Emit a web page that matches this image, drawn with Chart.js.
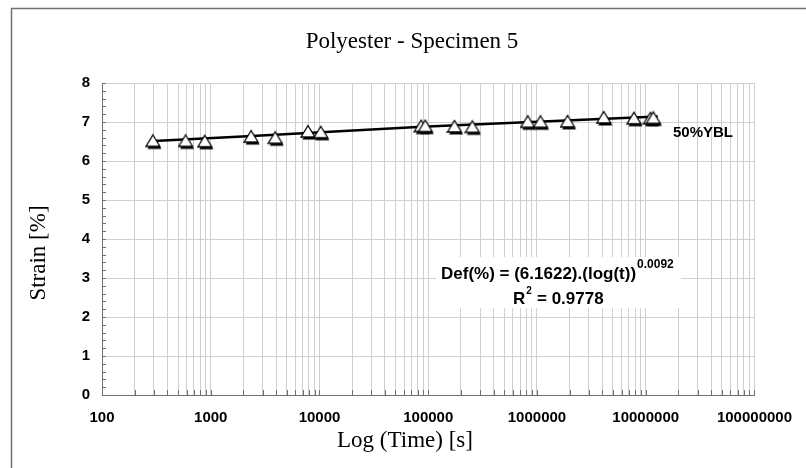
<!DOCTYPE html>
<html>
<head>
<meta charset="utf-8">
<script src="https://cdn.jsdelivr.net/npm/chart.js@4.4.1/dist/chart.umd.min.js"></script>
<style>
    html, body { margin: 0; padding: 0; background: #fff; }
    #wrap { width: 806px; height: 468px; position: relative; }
</style>
</head>
<body>
<div id="wrap"><canvas id="chart" width="806" height="468"></canvas></div>
<script>
// ── Data ──
const timeSec = [300, 600, 900, 2400, 4000, 8000, 10500, 88000, 96000, 178000, 260000,
                 840000, 1100000, 1950000, 4200000, 7950000, 11300000, 12000000];
const strainPct = [6.49, 6.49, 6.48, 6.60, 6.57, 6.73, 6.71, 6.87, 6.87, 6.86, 6.85,
                   6.98, 6.98, 6.99, 7.09, 7.07, 7.07, 7.08];
const fitTime = [300, 2400, 88000, 12900000];
const fitStrain = [6.51, 6.64, 6.88, 7.14];
const xTickValues = [100, 1000, 10000, 100000, 1000000, 10000000, 100000000];
const yTickValues = [0, 1, 2, 3, 4, 5, 6, 7, 8];

const SANS = "'Liberation Sans', Arial, sans-serif";
const SERIF = "'Liberation Serif', 'Times New Roman', serif";
const TICK_FONT = { family: SANS, size: 15, weight: "bold" };

// every 1..9 multiple inside [100, 1e8] for the log grid
function logGridValues() {
    var out = [];
    for (var d = 0; d < xTickValues.length - 1; d++) {
        for (var m = 1; m < 10; m++) out.push(xTickValues[d] * m);
    }
    out.push(xTickValues[xTickValues.length - 1]);
    return out;
}

// ── Marker: open triangle with a dark shadow, Excel style ──
function makeMarker() {
    var cv = document.createElement("canvas");
    cv.width = 18; cv.height = 17;
    var g = cv.getContext("2d");
    function tri(ox, oy) {
        g.beginPath();
        g.moveTo(8 + ox, 1.5 + oy);
        g.lineTo(15 + ox, 13 + oy);
        g.lineTo(1 + ox, 13 + oy);
        g.closePath();
    }
    g.fillStyle = "#000";
    tri(1.5, 2.5); g.fill();
    g.fillStyle = "#fff";
    g.strokeStyle = "#000";
    g.lineWidth = 1.3;
    tri(0, 0); g.fill(); g.stroke();
    return cv;
}

// ── Extra drawing: frame, titles, minor ticks, equation box ──
const decorPlugin = {
    id: "decor",
    beforeDraw(chart) {
        const c = chart.ctx;
        c.save();
        c.fillStyle = "#fff";
        c.fillRect(0, 0, chart.width, chart.height);
        // outer frame (left + top only visible)
        c.strokeStyle = "#707070";
        c.lineWidth = 1.5;
        c.beginPath();
        c.moveTo(11.5, chart.height);
        c.lineTo(11.5, 8.5);
        c.lineTo(chart.width, 8.5);
        c.stroke();
        c.restore();
    },
    afterDraw(chart) {
        const c = chart.ctx;
        const xs = chart.scales.x, ys = chart.scales.y;
        const area = chart.chartArea;
        c.save();

        // minor ticks, y axis (inside)
        c.strokeStyle = "#707070";
        c.lineWidth = 1;
        c.beginPath();
        for (var i = 0; i <= 40; i++) {
            var py = Math.round(ys.getPixelForValue(i * 0.2)) + 0.5;
            c.moveTo(area.left, py);
            c.lineTo(area.left + 4, py);
        }
        // ticks on x axis (pointing up)
        logGridValues().forEach(function (v) {
            var px = Math.round(xs.getPixelForValue(v)) + 0.5;
            c.moveTo(px, area.bottom);
            c.lineTo(px, area.bottom - 5);
        });
        c.stroke();

        // titles
        c.fillStyle = "#000";
        c.textAlign = "center";
        c.textBaseline = "middle";
        c.font = "23px " + SERIF;
        c.fillText("Polyester - Specimen 5", 412, 42);
        c.fillText("Log (Time) [s]", 405, 441);
        c.save();
        c.translate(39, 253);
        c.rotate(-Math.PI / 2);
        c.fillText("Strain [%]", 0, 0);
        c.restore();

        // series label
        c.font = "bold 15px " + SANS;
        c.textAlign = "left";
        c.fillText("50%YBL", 673, 133);

        // equation box
        c.fillStyle = "#fff";
        c.fillRect(436, 257, 245, 51);
        c.fillStyle = "#000";
        c.font = "bold 17px " + SANS;
        var main = "Def(%) = (6.1622).(log(t))";
        c.fillText(main, 441, 274);
        var w = c.measureText(main).width;
        c.font = "bold 12px " + SANS;
        c.fillText("0.0092", 441 + w + 1, 265);
        c.font = "bold 17px " + SANS;
        c.fillText("R", 513, 299);
        var rw = c.measureText("R").width;
        c.font = "bold 10px " + SANS;
        c.fillText("2", 513 + rw + 1, 291);
        c.font = "bold 17px " + SANS;
        c.fillText(" = 0.9778", 513 + rw + 7, 299);
        c.restore();
    }
};

new Chart(document.getElementById("chart"), {
    type: "scatter",
    data: {
        datasets: [
            {
                label: "Fit",
                data: fitTime.map(function (t, i) { return { x: t, y: fitStrain[i] }; }),
                showLine: true,
                borderColor: "#000",
                borderWidth: 2.5,
                pointRadius: 0,
                order: 2
            },
            {
                label: "50%YBL",
                data: timeSec.map(function (t, i) { return { x: t, y: strainPct[i] }; }),
                pointStyle: makeMarker(),
                pointRadius: 7,
                order: 1
            }
        ]
    },
    options: {
        responsive: false,
        animation: false,
        layout: { padding: { left: 72, right: 41, top: 83, bottom: 43 } },
        plugins: {
            legend: { display: false },
            tooltip: { enabled: false }
        },
        scales: {
            x: {
                type: "logarithmic",
                min: 100,
                max: 100000000,
                afterBuildTicks: function (scale) {
                    scale.ticks = logGridValues().map(function (v) { return { value: v }; });
                },
                afterFit: function (scale) { scale.height = 30; },
                ticks: {
                    autoSkip: false,
                    maxRotation: 0,
                    padding: 14,
                    color: "#000",
                    font: TICK_FONT,
                    callback: function (v) {
                        return xTickValues.indexOf(v) >= 0 ? String(v) : "";
                    }
                },
                grid: { color: "#cfcfcf", drawTicks: false },
                border: { color: "#707070", width: 1 }
            },
            y: {
                min: 0,
                max: 8,
                afterBuildTicks: function (scale) {
                    scale.ticks = yTickValues.map(function (v) { return { value: v }; });
                },
                afterFit: function (scale) { scale.width = 30; },
                ticks: {
                    padding: 12,
                    color: "#000",
                    font: TICK_FONT
                },
                grid: { color: "#cfcfcf", drawTicks: false },
                border: { color: "#707070", width: 1 }
            }
        }
    },
    plugins: [decorPlugin]
});
</script>
</body>
</html>
